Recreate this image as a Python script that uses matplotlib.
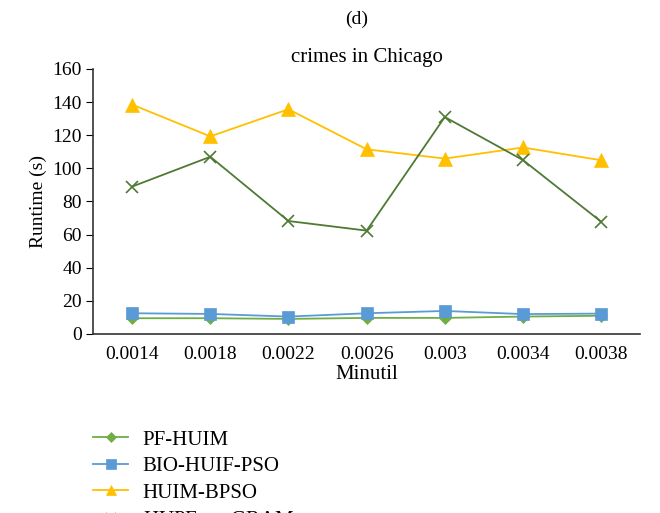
import matplotlib
matplotlib.use("Agg")
import matplotlib.pyplot as plt
import numpy as np

plt.rcParams['font.family'] = ['Liberation Serif', 'DejaVu Serif']
plt.rcParams['mathtext.fontset'] = 'stix'

minutil = ["0.0014", "0.0018", "0.0022", "0.0026", "0.003", "0.0034", "0.0038"]
pf_huim = [9.5, 9.5, 9.1, 9.7, 9.7, 10.5, 11.0]
bio_huif_pso = [12.5, 12.1, 10.5, 12.5, 13.9, 12.0, 12.3]
huim_bpso = [138.5, 119.3, 135.7, 111.5, 105.9, 112.6, 104.9]
hupe_gram = [89.0, 107.0, 68.2, 62.4, 131.0, 105.0, 67.8]

labels = ["PF-HUIM", "BIO-HUIF-PSO", "HUIM-BPSO", "HUPE$_{umu}$-GRAM"]
colors = ["#70AD47", "#5B9BD5", "#FFC000", "#4E7A34"]
markers = ["D", "s", "^", "x"]
msizes = [6, 9, 9.5, 9]

fig = plt.figure(figsize=(6.6, 5.13), dpi=100)
ax = fig.add_axes([0.141, 0.349, 0.829, 0.5165])
x = np.arange(len(minutil))
for data, lab, c, m, ms in zip([pf_huim, bio_huif_pso, huim_bpso, hupe_gram], labels, colors, markers, msizes):
    ax.plot(x, data, color=c, marker=m, markersize=ms, linewidth=1.3, label=lab,
            markeredgewidth=1.2 if m == "x" else 0.5)

ax.set_xlim(-0.5, len(minutil) - 0.5)
ax.set_ylim(0, 160)
ax.set_yticks(np.arange(0, 161, 20))
ax.set_xticks(x)
ax.set_xticklabels(minutil)
ax.tick_params(axis='x', length=0, labelsize=14, pad=9)
ax.tick_params(axis='y', length=5, labelsize=14, direction='out', pad=3)
for s in ['top', 'right']:
    ax.spines[s].set_visible(False)
for s in ['left', 'bottom']:
    ax.spines[s].set_color('#333333')
    ax.spines[s].set_linewidth(1.2)
ax.set_xlabel("Minutil", fontsize=15, labelpad=1)
ax.set_ylabel("Runtime (s)", fontsize=14, labelpad=4)
ax.set_title("crimes in Chicago", fontsize=15, pad=5)
fig.text(0.54, 0.963, "(d)", ha='center', va='center', fontsize=14)

fig.legend(loc='upper left', bbox_to_anchor=(0.128, 0.178), frameon=False,
           fontsize=15, handlelength=1.7, handletextpad=0.7,
           labelspacing=0.33, borderaxespad=0, markerscale=0.8)

fig.savefig("out.png", dpi=100)
